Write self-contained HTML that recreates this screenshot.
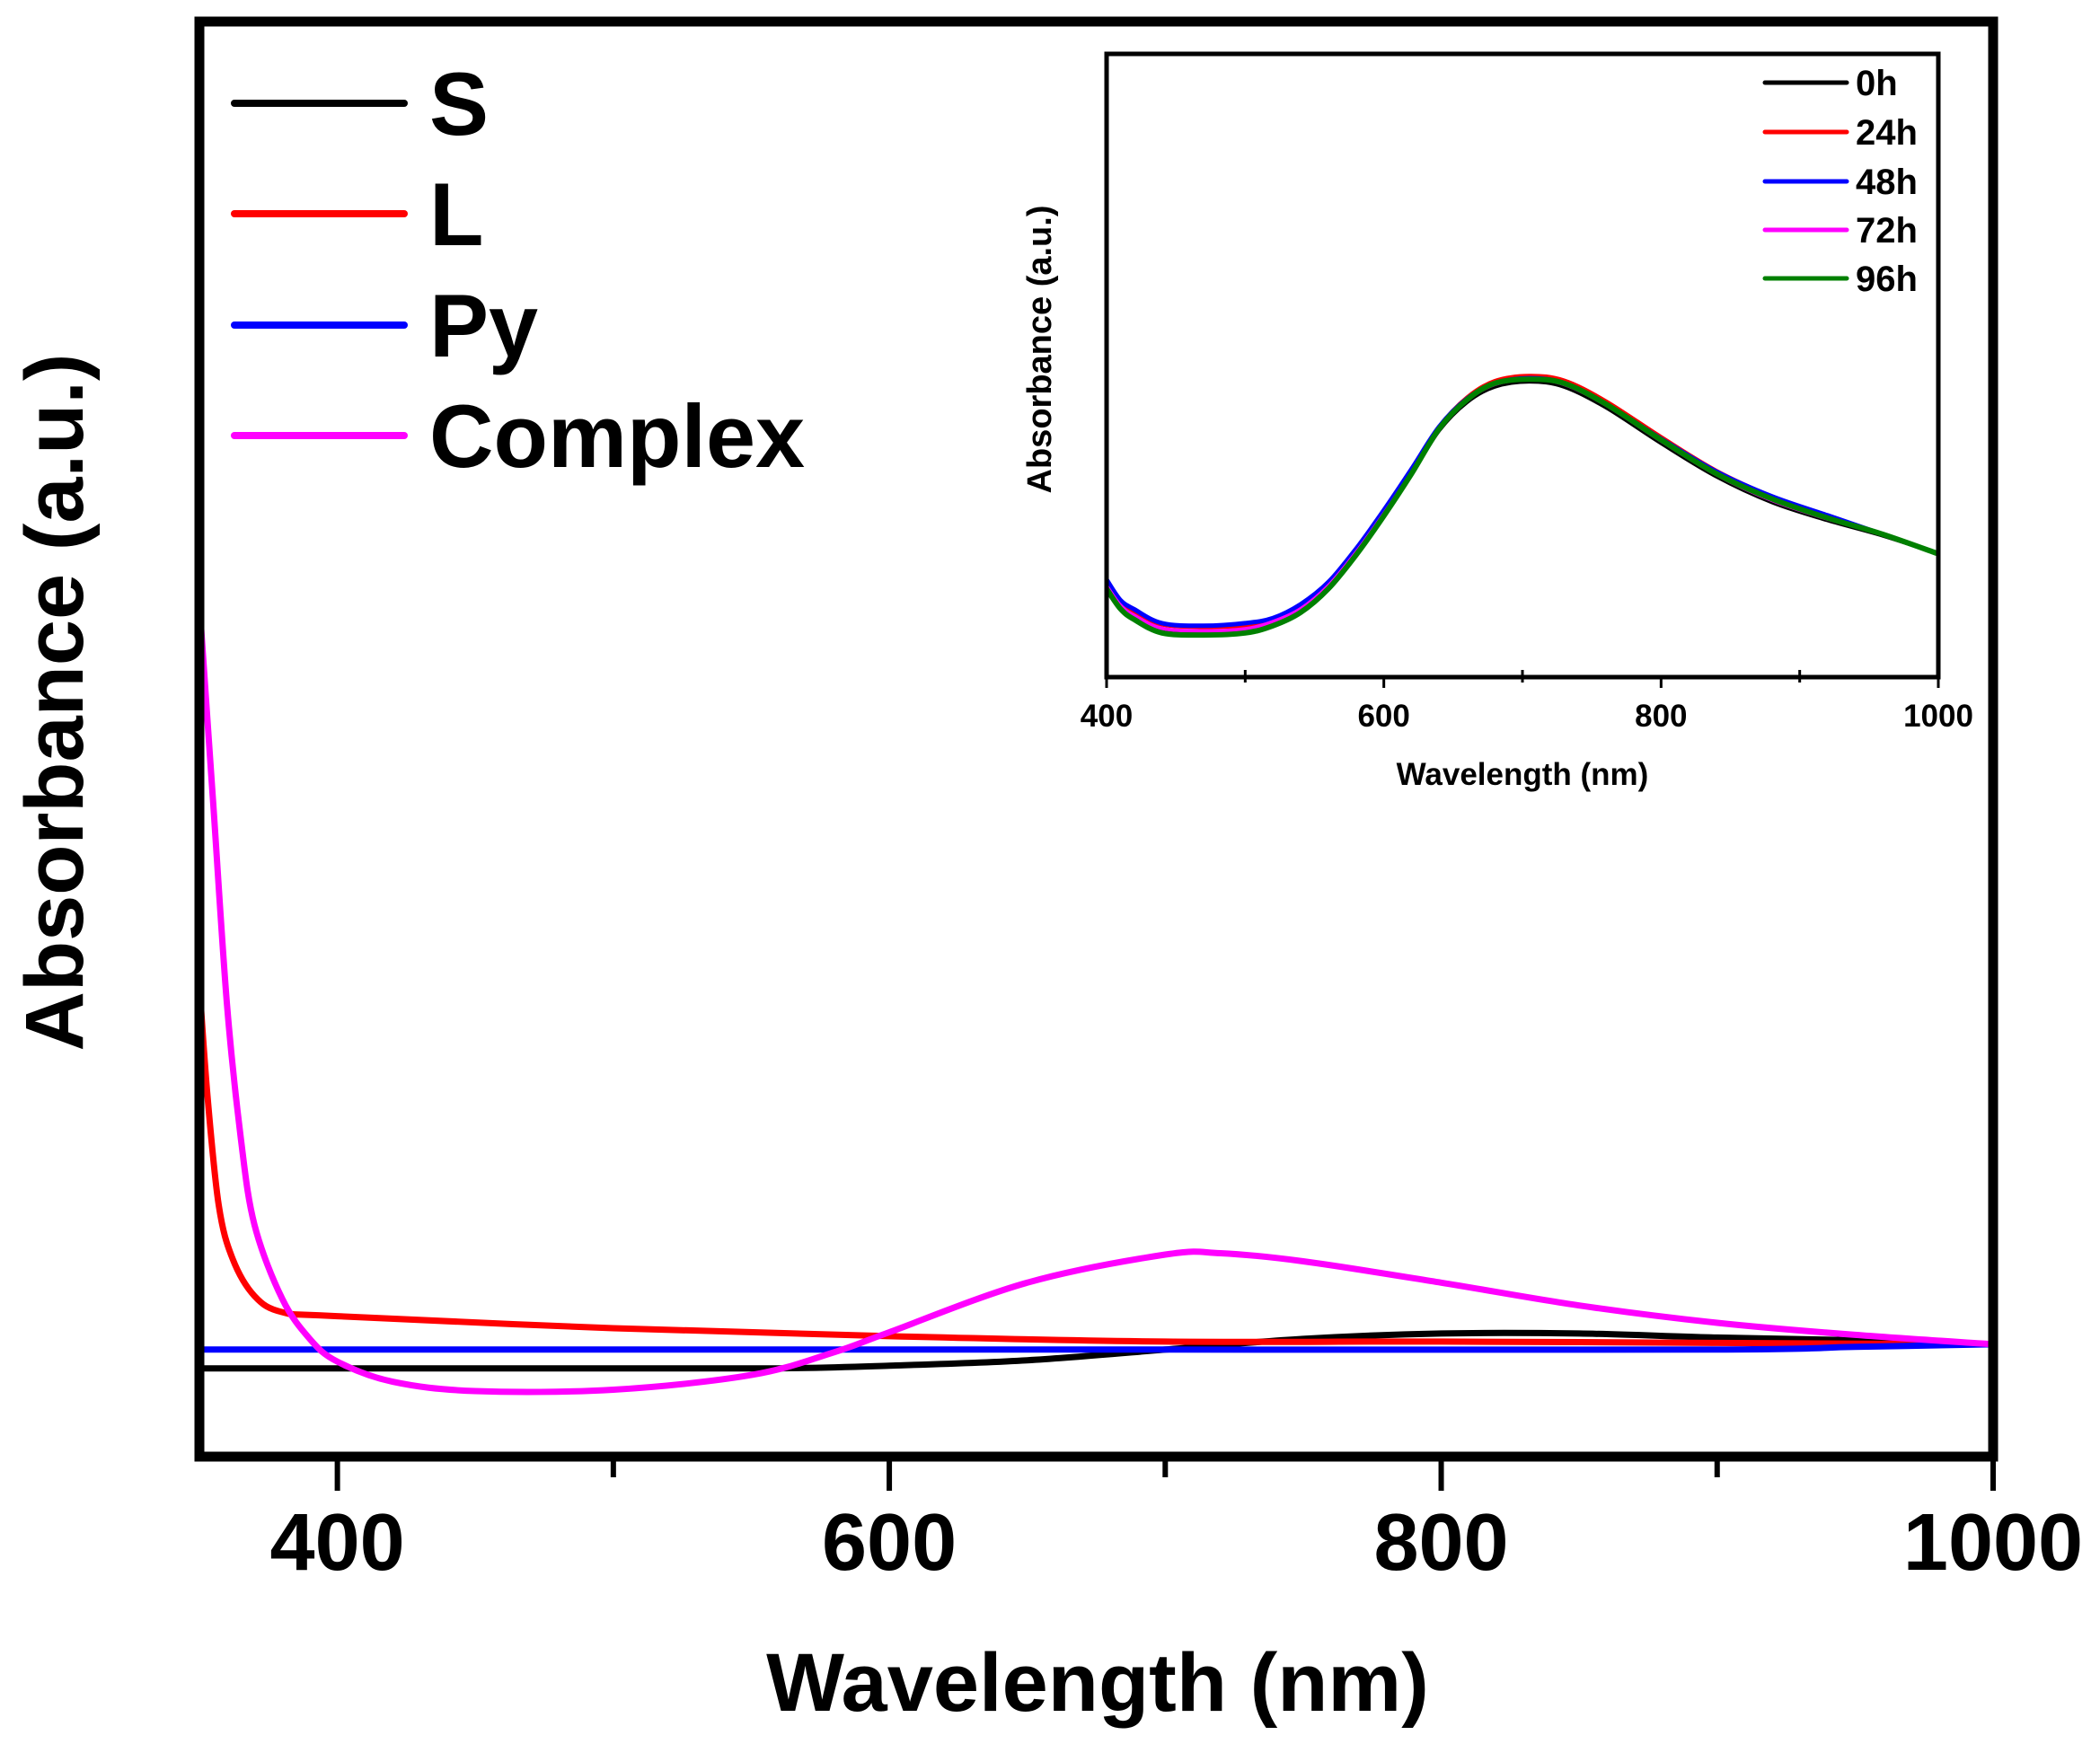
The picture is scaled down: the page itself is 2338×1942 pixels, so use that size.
<!DOCTYPE html>
<html><head><meta charset="utf-8"><style>
html,body{margin:0;padding:0;background:#fff;}
svg{display:block;font-family:"Liberation Sans",Arial,sans-serif;font-weight:bold;}
</style></head><body>
<svg id="chart" width="2338" height="1942" viewBox="0 0 2338 1942" xmlns="http://www.w3.org/2000/svg">
<rect width="2338" height="1942" fill="#fff"/>
<g id="main"></g>
<g id="inset"></g>
</svg>
<script>
// ---- main chart data ----
const mainTickValues = [400, 600, 800, 1000];
const mainMinorTicks = [500, 700, 900];
const mainNames = ["S", "L", "Py", "Complex"];
const mainColors = ["#000000", "#ff0000", "#0000ff", "#ff00ff"];
const sX = [350, 400, 500, 560, 600, 650, 700, 750, 800, 850, 900, 950, 1000];
const sY = [0.68, 0.68, 0.68, 0.68, 0.70, 0.74, 0.82, 0.90, 0.94, 0.94, 0.91, 0.89, 0.86];
const lX = [350, 353, 357, 362, 370, 380, 400, 500, 600, 700, 800, 900, 1000];
const lY = [3.55, 2.7, 1.9, 1.5, 1.22, 1.10, 1.07, 0.98, 0.92, 0.88, 0.88, 0.87, 0.86];
const pyX = [350, 500, 700, 900, 950, 1000];
const pyY = [0.82, 0.82, 0.82, 0.82, 0.84, 0.86];
const cX = [350, 355, 360, 365, 370, 380, 390, 400, 420, 450, 500, 550, 580, 600, 650, 700, 720, 750, 800, 850, 900, 950, 1000];
const cY = [6.4, 4.9, 3.4, 2.4, 1.75, 1.2, 0.9, 0.73, 0.58, 0.51, 0.52, 0.63, 0.80, 0.95, 1.32, 1.53, 1.54, 1.48, 1.32, 1.15, 1.02, 0.93, 0.86];

// ---- inset data ----
const insetTickValues = [400, 600, 800, 1000];
const insetMinorTicks = [500, 700, 900];
const insetNames = ["0h", "24h", "48h", "72h", "96h"];
const insetColors = ["#000000", "#ff0000", "#0000ff", "#ff00ff", "#008000"];
const insetX = [400, 410, 420, 440, 470, 500, 520, 540, 560, 580, 600, 620, 640, 660, 680, 705, 730, 760, 800, 840, 880, 920, 960, 1000];
const h0 = [1.75, 1.35, 1.15, 0.90, 0.85, 0.90, 1.05, 1.30, 1.75, 2.40, 3.15, 3.95, 4.80, 5.35, 5.65, 5.75, 5.65, 5.25, 4.55, 3.90, 3.40, 3.05, 2.75, 2.40];
const h24 = [1.85, 1.45, 1.25, 1.02, 0.97, 1.00, 1.12, 1.38, 1.82, 2.48, 3.22, 4.02, 4.88, 5.45, 5.77, 5.87, 5.78, 5.38, 4.68, 4.02, 3.52, 3.12, 2.78, 2.40];
const h48 = [1.90, 1.50, 1.32, 1.05, 1.00, 1.05, 1.15, 1.42, 1.85, 2.50, 3.25, 4.05, 4.88, 5.42, 5.72, 5.82, 5.72, 5.32, 4.64, 4.00, 3.52, 3.15, 2.78, 2.40];
const h72 = [1.78, 1.40, 1.20, 0.95, 0.90, 0.94, 1.08, 1.33, 1.78, 2.43, 3.18, 3.98, 4.83, 5.39, 5.70, 5.80, 5.70, 5.30, 4.60, 3.94, 3.44, 3.08, 2.78, 2.40];
const h96 = [1.72, 1.33, 1.12, 0.86, 0.82, 0.86, 1.00, 1.26, 1.72, 2.38, 3.14, 3.96, 4.84, 5.40, 5.72, 5.80, 5.72, 5.32, 4.62, 3.96, 3.47, 3.10, 2.78, 2.40];

const NS = "http://www.w3.org/2000/svg";
function mk(tag, attrs, parent) {
  const e = document.createElementNS(NS, tag);
  for (const k in attrs) e.setAttribute(k, attrs[k]);
  parent.appendChild(e);
  return e;
}
const gm = document.getElementById("main");
const gi = document.getElementById("inset");

// main axes
const mL = 222, mR = 2219, mT = 24, mB = 1622;
const mx = v => mL + (v - 350) / (1000 - 350) * (mR - mL);
const my = v => 1625 - v * 149;

// smooth path (Catmull-Rom through data points)
function pathD(xs, ys, fx, fy) {
  const P = xs.map((x, i) => [fx(x), fy(ys[i])]);
  let d = "M" + P[0][0].toFixed(1) + "," + P[0][1].toFixed(1);
  for (let i = 0; i < P.length - 1; i++) {
    const p0 = P[Math.max(0, i - 1)], p1 = P[i], p2 = P[i + 1], p3 = P[Math.min(P.length - 1, i + 2)];
    const c1x = p1[0] + (p2[0] - p0[0]) / 6, c1y = p1[1] + (p2[1] - p0[1]) / 6;
    const c2x = p2[0] - (p3[0] - p1[0]) / 6, c2y = p2[1] - (p3[1] - p1[1]) / 6;
    d += " C" + c1x.toFixed(1) + "," + c1y.toFixed(1) + " " + c2x.toFixed(1) + "," + c2y.toFixed(1) + " " + p2[0].toFixed(1) + "," + p2[1].toFixed(1);
  }
  return d;
}

const mainSeries = [[sX, sY], [lX, lY], [pyX, pyY], [cX, cY]];
[0, 1, 2, 3].forEach(i => {
  const p = mk("path", {d: pathD(mainSeries[i][0], mainSeries[i][1], mx, my), fill: "none", stroke: mainColors[i], "stroke-width": 7, "stroke-linejoin": "round"}, gm);
  
  
});

const frame = mk("rect", {x: mL, y: mT, width: mR - mL, height: mB - mT, fill: "none", stroke: "#000", "stroke-width": 11}, gm);



mainTickValues.forEach(v => {
  const t = mk("line", {x1: mx(v), x2: mx(v), y1: mB, y2: 1660, stroke: "#000", "stroke-width": 6}, gm);
  
  
  const l = mk("text", {x: mx(v), y: 1748, "text-anchor": "middle", "font-size": 90}, gm);
  l.textContent = v;
  
  
});
mainMinorTicks.forEach(v => {
  const t = mk("line", {x1: mx(v), x2: mx(v), y1: mB, y2: 1645, stroke: "#000", "stroke-width": 6}, gm);
  
  
});
const xt = mk("text", {x: 1222, y: 1905, "text-anchor": "middle", "font-size": 92}, gm);
xt.textContent = "Wavelength (nm)";


const yt = mk("text", {x: 0, y: 0, "text-anchor": "middle", "font-size": 92, transform: "translate(92,782) rotate(-90)"}, gm);
yt.textContent = "Absorbance (a.u.)";



const legY = [115, 238, 362, 485];
mainNames.forEach((n, i) => {
  const ln = mk("line", {x1: 261, x2: 450, y1: legY[i], y2: legY[i], stroke: mainColors[i], "stroke-width": 8, "stroke-linecap": "round"}, gm);
  
  
  const tx = mk("text", {x: 478, y: legY[i] + 35, "font-size": 99}, gm);
  tx.textContent = n;
  
  
});

// inset axes
const iL = 1232, iR = 2158, iT = 60, iB = 754;
const ix = v => iL + (v - 400) / 600 * (iR - iL);
const iy = v => iB - v * 57.2;
const insetSeries = [h0, h24, h48, h72, h96];
const insetWidths = [4, 4, 5, 4, 6];
insetSeries.forEach((ys, i) => {
  const p = mk("path", {d: pathD(insetX, ys, ix, iy), fill: "none", stroke: insetColors[i], "stroke-width": insetWidths[i], "stroke-linejoin": "round"}, gi);
  
  
});
const iframe = mk("rect", {x: iL, y: iT, width: iR - iL, height: iB - iT, fill: "none", stroke: "#000", "stroke-width": 5}, gi);


insetTickValues.forEach(v => {
  const t = mk("line", {x1: ix(v), x2: ix(v), y1: iB, y2: iB + 12, stroke: "#000", "stroke-width": 3}, gi);
  
  
  const l = mk("text", {x: ix(v), y: 809, "text-anchor": "middle", "font-size": 35}, gi);
  l.textContent = v;
  
  
});
insetMinorTicks.forEach(v => {
  const t = mk("line", {x1: ix(v), x2: ix(v), y1: iB - 8, y2: iB + 6, stroke: "#000", "stroke-width": 3}, gi);
  
  
});
const ixt = mk("text", {x: 1695, y: 874, "text-anchor": "middle", "font-size": 35}, gi);
ixt.textContent = "Wavelength (nm)";


const iyt = mk("text", {x: 0, y: 0, "text-anchor": "middle", "font-size": 38, transform: "translate(1170,389) rotate(-90)"}, gi);
iyt.textContent = "Absorbance (a.u.)";


const iLegY = [92, 147, 202, 256, 310];
insetNames.forEach((n, i) => {
  const ln = mk("line", {x1: 1965, x2: 2056, y1: iLegY[i], y2: iLegY[i], stroke: insetColors[i], "stroke-width": 5, "stroke-linecap": "round"}, gi);
  
  
  const tx = mk("text", {x: 2066, y: iLegY[i] + 14, "font-size": 40}, gi);
  tx.textContent = n;
  
  
});
</script>
</body></html>
